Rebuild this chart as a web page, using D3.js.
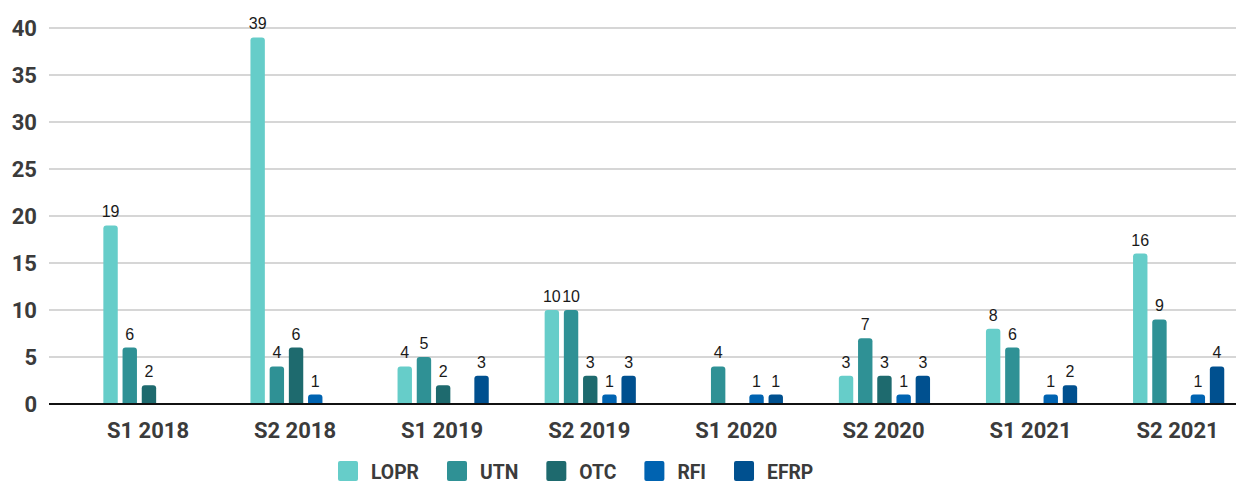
<!DOCTYPE html>
<html>
<head>
<meta charset="utf-8">
<script src="https://cdn.jsdelivr.net/npm/d3@7"></script>
<style>
  body { margin: 0; background: #fff; }
  svg { display: block; }
</style>
</head>
<body>
<div id="chart"></div>
<script>
let width = 1236;
let height = 485;

// data
let periods = ["S1 2018", "S2 2018", "S1 2019", "S2 2019", "S1 2020", "S2 2020", "S1 2021", "S2 2021"];
let seriesNames = ["LOPR", "UTN", "OTC", "RFI", "EFRP"];
let lopr = [19, 39, 4, 10, 0, 3, 8, 16];
let utn  = [6, 4, 5, 10, 4, 7, 6, 9];
let otc  = [2, 6, 2, 3, 0, 3, 0, 0];
let rfi  = [0, 1, 0, 1, 1, 1, 1, 1];
let efrp = [0, 0, 3, 3, 1, 3, 2, 4];
let yTicks = [0, 5, 10, 15, 20, 25, 30, 35, 40];
let colors = ["#66cdc9", "#2f9195", "#1e6a6e", "#0063b1", "#00508f"];

let allSeries = [lopr, utn, otc, rfi, efrp];

let svg = d3.select("#chart")
    .append("svg")
    .attr("width", width)
    .attr("height", height);

// scales
let y = d3.scaleLinear().domain([0, 40]).range([404, 28]);
let x0 = d3.scaleBand().domain(periods).range([75.4, 1252.2]).padding(0);
let x1 = d3.scaleBand().domain(seriesNames).range([0, 91.2]).paddingInner(0.25).paddingOuter(0);
let color = d3.scaleOrdinal().domain(seriesNames).range(colors);

// gridlines
svg.append("g")
    .selectAll("line")
    .data(yTicks.filter(function(d) { return d > 0; }))
    .enter()
    .append("line")
    .attr("x1", 49)
    .attr("x2", width)
    .attr("y1", function(d) { return y(d); })
    .attr("y2", function(d) { return y(d); })
    .attr("stroke", "#d6d6d6")
    .attr("stroke-width", 2);

// y labels
svg.append("g")
    .selectAll("text")
    .data(yTicks)
    .enter()
    .append("text")
    .attr("x", 37)
    .attr("y", function(d) { return y(d); })
    .attr("dy", "0.36em")
    .attr("text-anchor", "end")
    .style("font-family", "Roboto, sans-serif")
    .style("font-weight", "bold")
    .style("font-size", "22px")
    .style("fill", "#3b3b3b")
    .text(function(d) { return d; });

// bars, one group per period
let rows = periods.map(function(p, i) {
    return seriesNames.map(function(s, j) {
        return { period: p, key: s, value: allSeries[j][i] };
    });
});

// rounded-top bar shape
function barPath(d) {
    let bx = x0(d.period) + (x0.bandwidth() - 91.2) / 2 + x1(d.key);
    let bw = x1.bandwidth();
    let top = y(d.value);
    let base = y(0);
    let r = Math.min(3, (base - top) / 2);
    return "M" + bx + "," + base +
        "V" + (top + r) +
        "Q" + bx + "," + top + " " + (bx + r) + "," + top +
        "H" + (bx + bw - r) +
        "Q" + (bx + bw) + "," + top + " " + (bx + bw) + "," + (top + r) +
        "V" + base + "Z";
}

let flat = rows.flat().filter(function(d) { return d.value > 0; });

svg.append("g")
    .selectAll("path")
    .data(flat)
    .enter()
    .append("path")
    .attr("d", barPath)
    .attr("fill", function(d) { return color(d.key); });

// value labels
svg.append("g")
    .selectAll("text")
    .data(flat)
    .enter()
    .append("text")
    .attr("x", function(d) { return x0(d.period) + (x0.bandwidth() - 91.2) / 2 + x1(d.key) + x1.bandwidth() / 2; })
    .attr("y", function(d) { return y(d.value) - 8; })
    .attr("text-anchor", "middle")
    .style("font-family", "'Liberation Sans', Arial, sans-serif")
    .style("font-size", "16px")
    .style("fill", "#1a1a1a")
    .text(function(d) { return d.value; });

// baseline
svg.append("line")
    .attr("x1", 49)
    .attr("x2", width)
    .attr("y1", y(0))
    .attr("y2", y(0))
    .attr("stroke", "#111")
    .attr("stroke-width", 2);

// x labels
svg.append("g")
    .selectAll("text")
    .data(periods)
    .enter()
    .append("text")
    .attr("x", function(d) { return x0(d) + x0.bandwidth() / 2 - 1; })
    .attr("y", 438)
    .attr("text-anchor", "middle")
    .style("font-family", "Roboto, sans-serif")
    .style("font-weight", "bold")
    .style("font-size", "22px")
    .style("fill", "#3b3b3b")
    .text(function(d) { return d; });

// legend (original font is narrower, so squeeze the text a bit)
let legend = svg.append("g");
let lx = 338;
seriesNames.forEach(function(s) {
    legend.append("rect")
        .attr("x", lx)
        .attr("y", 461)
        .attr("width", 20)
        .attr("height", 20)
        .attr("rx", 2)
        .attr("fill", color(s));
    let t = legend.append("text")
        .attr("x", lx + 33)
        .attr("y", 479)
        .style("font-family", "Roboto, sans-serif")
        .style("font-weight", "bold")
        .style("font-size", "21px")
        .style("fill", "#3b3b3b")
        .text(s);
    let w = t.node().getComputedTextLength() * 0.92;
    t.attr("textLength", w).attr("lengthAdjust", "spacingAndGlyphs");
    lx += 33 + w + 28;
});
</script>
</body>
</html>
